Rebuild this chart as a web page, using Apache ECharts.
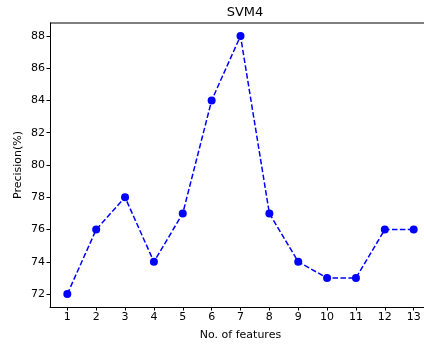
<!DOCTYPE html>
<html>
<head>
<meta charset="utf-8">
<script src="https://cdn.jsdelivr.net/npm/echarts@6/dist/echarts.min.js"></script>
<style>
  html, body { margin: 0; padding: 0; background: #fff; }
  #chart { width: 424px; height: 345px; }
</style>
</head>
<body>
<div id="chart"></div>
<script>
const features = [1, 2, 3, 4, 5, 6, 7, 8, 9, 10, 11, 12, 13];
const precision = [72, 76, 78, 74, 77, 84, 88, 77, 74, 73, 73, 76, 76];
const yTicks = [72, 74, 76, 78, 80, 82, 84, 86, 88];

const chart = echarts.init(document.getElementById('chart'));
const font = 'DejaVu Sans';

chart.setOption({
  animation: false,
  title: {
    text: 'SVM4',
    left: 240,
    top: 1,
    textAlign: 'center',
    textStyle: { fontFamily: font, fontSize: 13, fontWeight: 'normal', color: '#000' }
  },
  grid: { left: 50, top: 23, width: 381, height: 284, outerBoundsMode: 'none', containLabel: false },
  xAxis: {
    type: 'value',
    min: 0.4,
    max: 13.6,
    name: 'No. of features',
    nameLocation: 'middle',
    nameGap: 23,
    nameMoveOverlap: false,
    nameTextStyle: { fontFamily: font, fontSize: 11, color: '#000' },
    splitLine: { show: false },
    axisLine: { onZero: false, lineStyle: { color: '#000', width: 1 } },
    axisTick: { show: true, length: 3.5, customValues: features, lineStyle: { color: '#000' } },
    axisLabel: { customValues: features, margin: 5, fontFamily: font, fontSize: 11, color: '#000' }
  },
  yAxis: {
    type: 'value',
    min: 71.2,
    max: 88.8,
    name: 'Precision(%)',
    nameLocation: 'middle',
    nameGap: 26,
    nameMoveOverlap: false,
    nameTextStyle: { fontFamily: font, fontSize: 11, color: '#000' },
    splitLine: { show: false },
    axisLine: { show: true, onZero: false, lineStyle: { color: '#000', width: 1 } },
    axisTick: { show: true, length: 3.5, customValues: yTicks, lineStyle: { color: '#000' } },
    axisLabel: { customValues: yTicks, margin: 5, fontFamily: font, fontSize: 11, color: '#000' }
  },
  series: [{
    type: 'line',
    data: features.map((f, i) => [f, precision[i]]),
    symbol: 'circle',
    symbolSize: 8,
    itemStyle: { color: '#0000ff' },
    lineStyle: { color: '#0000ff', width: 1.5, type: [5.5, 2.4] }
  }],
  graphic: [{
    type: 'line',
    shape: { x1: 50, y1: 23, x2: 424, y2: 23 },
    style: { stroke: '#000', lineWidth: 1 }
  }]
});
</script>
</body>
</html>
